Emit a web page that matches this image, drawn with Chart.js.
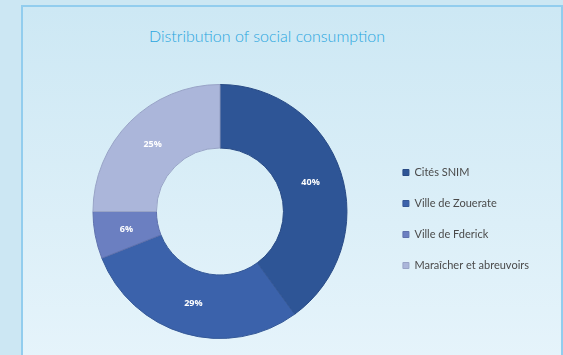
<!DOCTYPE html>
<html>
<head>
<meta charset="utf-8">
<script src="https://cdn.jsdelivr.net/npm/chart.js@4"></script>
<style>
  html, body { margin: 0; padding: 0; }
  body {
    width: 563px; height: 355px; overflow: hidden;
    background: #cce7f3;
    position: relative;
  }
  .frame {
    position: absolute; left: 21px; top: 5px; width: 538px; height: 360px;
    border: 2px solid #92cdee;
    background: linear-gradient(180deg, #cde8f4 0%, #dcEff8 60%, #e6f4fb 100%);
  }
  .title {
    position: absolute; left: 0; width: 534px; top: 26px;
    text-align: center;
    font: 300 16px Lato, sans-serif; color: #29a6df;
    line-height: 20px;
  }
  .wrap { position: absolute; left: 0; top: 0; width: 563px; height: 355px; }
</style>
</head>
<body>
<div class="frame"></div>
<div class="title">Distribution of social consumption</div>
<div class="wrap"><canvas id="chart" width="563" height="355"></canvas></div>
<script>
const categories = ["Cités SNIM", "Ville de Zouerate", "Ville de Fderick", "Maraîcher et abreuvoirs"];
const shares = [40, 29, 6, 25];
const sliceColors = ["#2e5596", "#3b62ab", "#6b7fc1", "#abb6da"];
const borderColors = ["#284a85", "#345897", "#5f71ad", "#98a3c6"];

// ================================
// percent labels inside the ring
// ================================
const sliceLabels = {
    id: "sliceLabels",
    afterDatasetsDraw(chart) {
        const ctx = chart.ctx;
        const meta = chart.getDatasetMeta(0);
        ctx.save();
        ctx.fillStyle = "#ffffff";
        ctx.font = "bold 9px 'Open Sans', sans-serif";
        ctx.textAlign = "center";
        ctx.textBaseline = "middle";
        meta.data.forEach((arc, i) => {
            const p = arc.tooltipPosition();
            ctx.fillText(shares[i] + "%", p.x, p.y);
        });
        ctx.restore();
    }
};

new Chart(document.getElementById("chart").getContext("2d"), {
    type: "doughnut",
    data: {
        labels: categories,
        datasets: [{
            data: shares,
            backgroundColor: sliceColors,
            borderColor: borderColors,
            borderWidth: 1
        }]
    },
    options: {
        responsive: false,
        animation: false,
        cutout: "50%",
        layout: { padding: { left: 57, right: 24, top: 84, bottom: 16 } },
        plugins: {
            legend: {
                position: "right",
                align: "start",
                title: { display: true, text: "", font: { size: 10 }, padding: { top: 51, bottom: 0 } },
                labels: {
                    boxWidth: 6,
                    boxHeight: 6,
                    padding: 20,
                    color: "#4a4a4a",
                    font: { family: "Lato", size: 11 }
                }
            },
            tooltip: { enabled: false }
        }
    },
    plugins: [sliceLabels]
});
</script>
</body>
</html>
